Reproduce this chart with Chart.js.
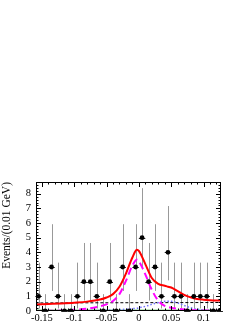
<!DOCTYPE html>
<html>
<head>
<meta charset="utf-8">
<script src="https://cdn.jsdelivr.net/npm/chart.js@4"></script>
<style>
html, body { margin: 0; padding: 0; background: #fff; }
#wrap { width: 249px; height: 323px; position: relative; }
</style>
</head>
<body>
<div id="wrap"><canvas id="c"></canvas></div>
<script>
// binned data (0.01 GeV bins)
const binCenters = [-0.155, -0.145, -0.135, -0.125, -0.115, -0.105, -0.095, -0.085, -0.075, -0.065,
	-0.055, -0.045, -0.035, -0.025, -0.015, -0.005, 0.005, 0.015, 0.025, 0.035,
	0.045, 0.055, 0.065, 0.075, 0.085, 0.095, 0.105, 0.115, 0.125]
const events = [1, 0, 3, 1, 0, 0, 1, 2, 2, 1,
	0, 2, 0, 3, 0, 3, 5, 2, 3, 1,
	4, 1, 1, 0, 1, 1, 1, 0, 0]
const binHalf = 0.005
// poisson error bars, indexed by number of events
const errDown = [0, 0.83, 1.29, 1.63, 1.91, 2.16]
const errUp = [1.15, 2.3, 2.64, 2.92, 3.16, 3.38]

// fit curves
const curveX = [-0.16, -0.14, -0.12, -0.10, -0.08, -0.06, -0.05, -0.04, -0.03, -0.02, -0.01, -0.003,
	0.0, 0.01, 0.02, 0.03, 0.04, 0.045, 0.05, 0.06, 0.07, 0.08, 0.09, 0.10, 0.11, 0.12, 0.13]
const totalFit = [0.44, 0.48, 0.52, 0.57, 0.64, 0.78, 0.92, 1.15, 1.65, 2.55, 3.65, 4.18,
	4.1, 3.2, 2.25, 1.85, 1.72, 1.66, 1.6, 1.35, 1.1, 0.93, 0.82, 0.77, 0.74, 0.72, 0.71]
const signal = [0.0, 0.01, 0.03, 0.08, 0.16, 0.32, 0.45, 0.68, 1.15, 2.05, 3.1, 3.5,
	3.4, 2.5, 1.45, 0.7, 0.35, 0.28, 0.22, 0.15, 0.1, 0.07, 0.05, 0.04, 0.03, 0.02, 0.02]
const peaking = [0, 0, 0, 0.01, 0.02, 0.04, 0.05, 0.07, 0.09, 0.12, 0.16, 0.19,
	0.22, 0.32, 0.45, 0.58, 0.66, 0.67, 0.66, 0.55, 0.38, 0.22, 0.12, 0.07, 0.04, 0.02, 0.01]
const bkgX = [-0.16, 0.13]
const bkgY = [0.55, 0.58]
const flatX = [-0.16, 0.13]
const flatY = [0.02, 0.02]

const xTicks = [-0.15, -0.1, -0.05, 0, 0.05, 0.1]
const yTicks = [0, 1, 2, 3, 4, 5, 6, 7, 8]

const serif = 'Liberation Serif'

const toXY = (xs, ys) => xs.map((v, i) => ({ x: v, y: ys[i] }))

// vertical + horizontal error bars, drawn under the markers
const errorBars = {
	id: 'errorBars',
	beforeDatasetsDraw(chart) {
		const { ctx, scales: { x, y } } = chart
		ctx.save()
		ctx.lineWidth = 1
		binCenters.forEach((c, i) => {
			const n = events[i]
			const px = Math.round(x.getPixelForValue(c)) + 0.5
			const py = Math.round(y.getPixelForValue(n)) + 0.5
			ctx.strokeStyle = '#999'
			ctx.beginPath()
			ctx.moveTo(px, y.getPixelForValue(n - errDown[n]))
			ctx.lineTo(px, y.getPixelForValue(n + errUp[n]))
			ctx.stroke()
			ctx.strokeStyle = '#222'
			ctx.beginPath()
			ctx.moveTo(x.getPixelForValue(c - binHalf), py)
			ctx.lineTo(x.getPixelForValue(c + binHalf), py)
			ctx.stroke()
		})
		ctx.restore()
	},
}

// ROOT style frame with inner major/minor ticks on all sides
const frameTicks = {
	id: 'frameTicks',
	afterDraw(chart) {
		const { ctx, chartArea: a, scales: { x, y } } = chart
		ctx.save()
		ctx.strokeStyle = '#000'
		ctx.lineWidth = 1
		ctx.strokeRect(a.left + 0.5, a.top + 0.5, a.right - a.left - 1, a.bottom - a.top - 1)
		ctx.beginPath()
		for (let k = -16; k <= 13; k++) {
			const px = Math.round(x.getPixelForValue(k / 100)) + 0.5
			if (px < a.left || px > a.right) continue
			const len = k % 5 === 0 ? 5 : 2.5
			ctx.moveTo(px, a.bottom)
			ctx.lineTo(px, a.bottom - len)
			ctx.moveTo(px, a.top)
			ctx.lineTo(px, a.top + len)
		}
		for (let k = 0; k <= 44; k++) {
			const py = Math.round(y.getPixelForValue(k / 5)) + 0.5
			if (py < a.top || py > a.bottom) continue
			const len = k % 5 === 0 ? 5 : 2.5
			ctx.moveTo(a.left, py)
			ctx.lineTo(a.left + len, py)
			ctx.moveTo(a.right, py)
			ctx.lineTo(a.right - len, py)
		}
		ctx.stroke()
		ctx.restore()
	},
}

const curve = (data, color, width, dash) => ({
	data,
	showLine: true,
	borderColor: color,
	borderWidth: width,
	borderDash: dash,
	pointRadius: 0,
	cubicInterpolationMode: 'monotone',
	fill: false,
})

new Chart(document.getElementById('c'), {
	type: 'scatter',
	data: {
		datasets: [
			{
				data: toXY(binCenters, events),
				backgroundColor: '#000',
				borderColor: '#000',
				pointRadius: 2.4,
				pointBorderWidth: 0,
			},
			curve(toXY(curveX, totalFit), '#ff0000', 2, []),
			curve(toXY(curveX, signal), '#ff00ff', 2, [7, 4]),
			curve(toXY(curveX, peaking), '#7070ff', 1.5, [1.5, 2]),
			curve(toXY(bkgX, bkgY), '#000', 1, [3, 2]),
			curve(toXY(flatX, flatY), '#00a000', 2, []),
		],
	},
	options: {
		responsive: true,
		maintainAspectRatio: false,
		animation: false,
		events: [],
		layout: { padding: { top: 182, right: 28, left: 0, bottom: 0 } },
		plugins: {
			legend: { display: false },
			tooltip: { enabled: false },
		},
		scales: {
			x: {
				type: 'linear',
				min: -0.159,
				max: 0.127,
				grid: { display: false, drawTicks: false },
				border: { display: false },
				afterBuildTicks: scale => {
					scale.ticks = xTicks.map(v => ({ value: v }))
				},
				afterFit: scale => {
					scale.height = 12
				},
				ticks: {
					autoSkip: false,
					maxRotation: 0,
					padding: 1,
					color: '#000',
					font: { family: serif, size: 10.5 },
					callback: v => String(v),
				},
			},
			y: {
				min: 0,
				max: 8.8,
				grid: { display: false, drawTicks: false },
				border: { display: false },
				afterBuildTicks: scale => {
					scale.ticks = yTicks.map(v => ({ value: v }))
				},
				afterFit: scale => {
					scale.width = 36
				},
				ticks: {
					padding: 5,
					color: '#000',
					font: { family: serif, size: 10.5 },
					callback: v => String(v),
				},
				title: {
					display: true,
					text: 'Events/(0.01 GeV)',
					align: 'end',
					color: '#000',
					padding: { top: 0, bottom: 0 },
					font: { family: serif, size: 11.5 },
				},
			},
		},
	},
	plugins: [errorBars, frameTicks],
})
</script>
</body>
</html>
